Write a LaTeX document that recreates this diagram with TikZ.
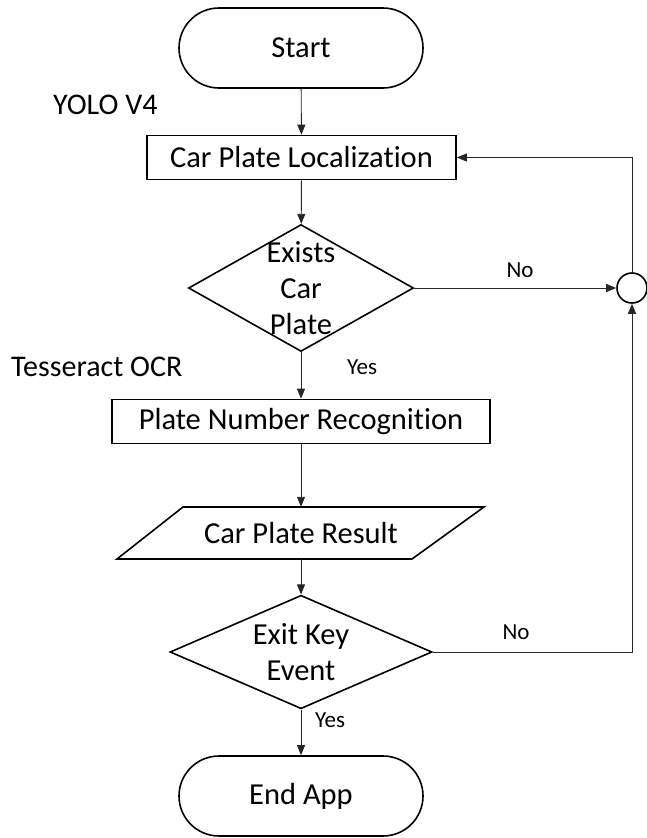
\documentclass[tikz,border=0pt]{standalone}
\usepackage{fontspec}
\setmainfont{Carlito}[Ligatures=NoCommon]
\usetikzlibrary{shapes.geometric,shapes.misc,arrows.meta}

\begin{document}
\begin{tikzpicture}[x=1pt,y=-1pt,
  shapeline/.style={draw=black,line width=1.6pt},
  boxfont/.style={font=\fontsize{30.5}{36}\selectfont},
  terminal/.style={shapeline,boxfont,rounded rectangle,minimum width=244pt,minimum height=80pt,inner sep=0pt},
  process/.style={shapeline,boxfont,rectangle,minimum height=44pt,inner sep=0pt},
  decision/.style={shapeline,boxfont,diamond,inner sep=-10pt,align=center},
  flow/.style={draw=black!85,line width=0.9pt,-{Triangle[length=10pt,width=8pt]}},
  caption/.style={font=\fontsize{30}{36}\selectfont,inner sep=0pt},
  branch/.style={font=\fontsize{23}{27}\selectfont,inner sep=0pt}]

\useasboundingbox (0,0) rectangle (647,838);

% main column
\node[terminal] (start) at (301,48) {Start};
\node[process,minimum width=309pt] (loc) at (301.5,157.5) {Car Plate Localization};
\node[decision,minimum width=225pt,minimum height=127pt] (exists) at (301,288) {Exists\\Car\\Plate};
\node[process,minimum width=378pt] (ocr) at (301,421.5) {Plate Number Recognition};

% output parallelogram
\draw[shapeline] (183,507) -- (484,507) -- (412,559) -- (117,559) -- cycle;
\node[boxfont,inner sep=0pt,minimum width=230pt,minimum height=52pt] (result) at (301,533) {Car Plate Result};

\node[decision,minimum width=262pt,minimum height=109pt] (exitkey) at (301,652) {Exit Key\\Event};
\node[terminal] (endapp) at (301,796) {End App};

% loop junction
\node[shapeline,circle,minimum size=30pt,inner sep=0pt] (join) at (632,288) {};

% side captions
\node[caption,anchor=west] (yolo) at (53,105) {YOLO V4};
\node[caption,anchor=west] (tess) at (11,367) {Tesseract OCR};

% connectors
\draw[flow] (start) -- (loc);
\draw[flow] (loc) -- (exists);
\draw[flow] (exists) -- (ocr);
\draw[flow] (ocr) -- (result);
\draw[flow] (result) -- (exitkey);
\draw[flow] (exitkey) -- (endapp);
\draw[flow] (exists.east) -- (join.west);
\draw[flow] (exitkey.east) -| (join.south);
\draw[flow] (join.north) |- (loc.east);

% branch labels
\node[branch] (yes1) at (362,367) {Yes};
\node[branch] (yes2) at (330,720) {Yes};
\node[branch] (no1) at (520,270) {No};
\node[branch] (no2) at (516,632) {No};
\end{tikzpicture}
\end{document}
